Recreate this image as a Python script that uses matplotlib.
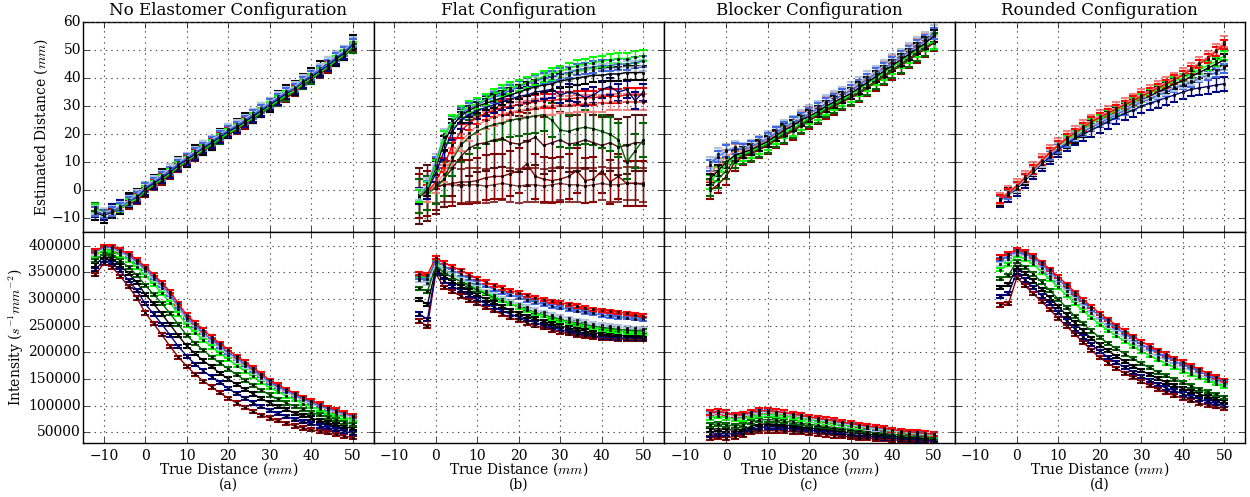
import numpy as np
import matplotlib.pyplot as plt

# true distance grids (mm)
x_noel = list(range(-12, 51, 2))
x_elast = list(range(-4, 51, 2))

# ---- No elastomer: estimated distance (mm)
noel_est_red = [-7, -8, -7, -6, -4, -2.5, 0, 2.5, 4.5, 6.5, 9, 11, 13, 15, 17, 19, 21, 22.5, 24.5, 26,
                28, 30, 32, 34, 36, 38, 40, 42, 44.5, 46.5, 48.5, 51]
noel_est_darkred = [-7, -8.5, -8, -6.5, -5, -3.5, -1, 1.5, 3.5, 5.5, 8, 10, 12, 14, 16, 18, 20, 21.5, 23.5, 25.5,
                    27.5, 29.5, 31.5, 33, 35, 37.5, 39.5, 41.5, 43.5, 46, 48, 51]
noel_est_darkgreen = [-6, -8, -7, -6, -4.5, -3, -0.5, 2, 4, 6, 8.5, 10.5, 12.5, 14.5, 16, 18, 20, 22, 24, 25.5,
                      27.5, 29.5, 31.5, 33.5, 35.5, 37.5, 39.5, 42, 44, 46, 48, 50.5]
noel_est_green = [-6.5, -8, -7.5, -6.5, -4.5, -3, 0, 2, 4, 6, 8.5, 10.5, 12.5, 14.5, 16.5, 18.5, 20.5, 22, 24, 26,
                  28, 30, 32, 34, 35.5, 38, 40, 42, 44, 46.5, 48.5, 51.5]
noel_est_black = [-8, -9, -7.5, -6, -3.5, -2, 0.5, 3, 5, 7, 9.5, 11, 13.5, 15, 17, 19.5, 21, 23, 25, 26.5,
                  28.5, 30.5, 33, 35, 36.5, 39, 41, 43.5, 45, 47, 49, 53]
noel_est_navy = [-7.5, -8.5, -7, -5.5, -3.5, -2.5, 0.5, 2.5, 4.5, 6.5, 9, 11, 13, 15.5, 17, 19, 21, 22.5, 24.5, 26.5,
                 28.5, 30.5, 32.5, 34.5, 36.5, 38.5, 40.5, 42.5, 44.5, 47, 49, 52]
noel_est_light = [-7, -8, -7, -5.5, -3.5, -1.5, 1.5, 3.5, 5.5, 8, 10, 12, 14, 16, 18, 20, 22, 23.5, 25.5, 27.5,
                  29.5, 31.5, 33.5, 35.5, 37, 39.5, 41.5, 43.5, 46, 48, 50, 53]
noel_est_blue = [-7.5, -8.5, -7.5, -6, -4, -2, 1, 3, 5, 7, 9.5, 11.5, 13.5, 15.5, 17.5, 19.5, 21.5, 23, 25, 27,
                 29, 31, 33, 35, 36.5, 39, 41, 43, 45, 47.5, 49.5, 52.5]
noel_est_err = [1.5, 1.5, 1.5, 1.5, 2.5, 2, 1.5, 1.5]

# ---- No elastomer: intensity (thousands of s^-1 mm^-2)
noel_int_darkred_k = [346, 367, 360, 343, 323, 302, 274, 254, 233, 211, 191, 174, 159, 146, 135, 124, 114, 105, 97, 89,
                      82, 77, 72, 67, 62, 58, 55, 52, 49, 46, 43, 40]
noel_int_navy_k = [355, 373, 368, 353, 335, 316, 291, 272, 253, 232, 211, 193, 178, 165, 154, 143, 132, 123, 114, 105,
                   98, 91, 85, 80, 74, 70, 66, 62, 59, 55, 52, 48]
noel_int_black_k = [364, 380, 376, 363, 348, 331, 309, 291, 272, 252, 231, 212, 198, 184, 173, 161, 150, 140, 131, 122,
                    113, 105, 99, 93, 86, 81, 77, 72, 68, 64, 61, 57]
noel_int_darkgreen_k = [373, 386, 383, 372, 360, 345, 326, 309, 292, 273, 252, 232, 217, 204, 191, 180, 169, 158, 148,
                        138, 129, 120, 112, 105, 99, 93, 87, 83, 78, 74, 69, 65]
noel_int_green_k = [382, 393, 391, 382, 373, 360, 344, 328, 311, 293, 272, 251, 237, 223, 210, 198, 187, 175, 165, 155,
                    144, 134, 126, 118, 111, 104, 98, 93, 87, 83, 78, 74]
noel_int_light_k = [386, 396, 395, 387, 379, 367, 352, 337, 321, 304, 282, 260, 246, 232, 220, 208, 196, 184, 174, 163,
                    152, 141, 132, 125, 117, 110, 104, 98, 92, 87, 83, 78]
noel_int_blue_k = [389, 397, 397, 390, 382, 370, 357, 341, 326, 309, 287, 265, 251, 237, 224, 212, 200, 189, 178, 167,
                   156, 144, 136, 128, 120, 113, 106, 100, 95, 90, 85, 80]
noel_int_red_k = [391, 399, 399, 392, 385, 374, 361, 346, 331, 314, 292, 270, 256, 242, 229, 217, 205, 193, 182, 171,
                  160, 148, 139, 131, 123, 116, 109, 103, 97, 92, 87, 82]
noel_int_err_k = [3, 3, 3, 3, 3, 3, 3, 3]

# ---- Flat: estimated distance (mm)
flat_est_brown = [-2, -1, 1.5, 2, 2, 1.5, 2, 2, 1.5, 2, 2.5, 2, 1.5, 2, 2, 1.5, 2, 2.5, 2, 2,
                  1.5, 2, 2.5, 2, 2, 2.5, 2.5, 2]
flat_est_darkred = [-2, -1, 1, 2, 2.5, 3, 3, 3.5, 4.5, 5, 5, 6, 7, 9.5, 5, 4, 3.5, 4, 5, 7,
                    3.5, 4, 7, 3, 5, 2.5, 2.5, 2.5]
flat_est_maroon = [-2, -1, 1.5, 4, 8, 12, 15, 16.5, 17, 18, 18.5, 17, 16.5, 17.5, 19, 16, 17, 18, 16.5, 17,
                   18, 17, 16, 17, 15.5, 16, 17, 17]
flat_est_darkgreen = [-2, -1, 1, 4, 11, 16, 19, 21, 22.5, 23.5, 24, 25, 25.5, 26, 26.5, 27, 25, 21.5, 21, 22,
                      22.5, 22, 21, 20, 18, 10, 14, 18]
flat_est_pink = [-2, -1, 2, 6, 12, 17, 20.5, 23, 25, 26, 27, 28, 28.5, 29, 29.5, 30, 30, 30.5, 30.5, 31,
                 31, 31, 31, 31.5, 31.5, 31.5, 31.5, 31.5]
flat_est_red = [-2, -0.5, 3, 9, 16, 21, 24, 26, 27.5, 28.5, 29.5, 30, 30.5, 31, 31.5, 32, 32, 32.5, 32.5, 33,
                33, 33, 33.5, 33.5, 33.5, 34, 34, 34]
flat_est_navy = [-2, 0, 6, 14, 21, 25, 27, 28.5, 29.5, 30.5, 31.5, 32.5, 33.5, 34, 35, 35.5, 36, 34, 35, 34.5,
                 33, 34, 36, 37, 35, 36, 32, 35]
flat_est_black = [-2, 0.5, 8, 17, 23, 26.5, 28.5, 30, 31, 32, 33, 34, 35, 36, 37, 37.5, 38, 39, 39.5, 40,
                  40.5, 41, 41, 41.5, 41.5, 42, 42, 42]
flat_est_light = [-1.5, 2.5, 11, 20, 25, 28, 29.5, 31, 32, 33.5, 34.5, 36, 37, 38, 38.5, 39.5, 40, 40.5, 41, 42,
                  42.5, 43, 43, 43.5, 43.5, 44, 44, 44.5]
flat_est_blue = [-2, 1.5, 10, 19, 24.5, 27.5, 29, 30.5, 32, 33, 34.5, 35.5, 37, 38, 39, 40, 40.5, 41.5, 42, 43,
                 43.5, 44, 44.5, 44.5, 45, 45, 45.5, 46]
flat_est_green = [-2, 1, 9, 19, 25, 28, 30, 31, 32.5, 34, 35.5, 36.5, 37.5, 38.5, 39.5, 40.5, 41.5, 42.5, 43.5, 44.5,
                  45, 45.5, 46, 46.5, 47, 47, 47.5, 48]
flat_est_err = [6, 8, 10, 6, 3, 2.5, 3, 2.5, 2, 2, 2]

# ---- Flat: intensity (thousands of s^-1 mm^-2)
flat_int_navy_k = [259, 249, 348, 322, 314, 306, 298, 291, 284, 278, 272, 265, 260, 255, 250, 246, 242, 238, 235, 232,
                   230, 228, 227, 226, 225, 225, 224, 224]
flat_int_black_k = [272, 262, 352, 334, 324, 316, 307, 299, 292, 285, 278, 272, 266, 261, 256, 251, 247, 243, 239, 236,
                    233, 231, 229, 228, 227, 227, 227, 226]
flat_int_darkgreen_k = [300, 290, 356, 343, 333, 324, 316, 308, 300, 293, 286, 279, 273, 268, 263, 258, 254, 250, 246,
                        243, 240, 237, 235, 233, 232, 231, 231, 231]
flat_int_green_k = [320, 315, 362, 350, 341, 333, 325, 317, 310, 303, 297, 291, 285, 280, 275, 270, 266, 262, 258, 255,
                    252, 249, 247, 245, 243, 242, 241, 240]
flat_int_light_k = [342, 340, 368, 356, 347, 338, 329, 320, 313, 305, 298, 291, 285, 279, 274, 269, 264, 260, 257, 253,
                    250, 247, 244, 242, 240, 238, 237, 236]
flat_int_blue_k = [335, 330, 366, 355, 346, 338, 330, 322, 315, 308, 301, 295, 290, 285, 280, 275, 271, 267, 264, 260,
                   257, 254, 252, 250, 248, 246, 245, 244]
flat_int_pink_k = [340, 338, 372, 362, 354, 347, 339, 331, 325, 319, 313, 308, 303, 298, 294, 290, 287, 284, 281, 278,
                   275, 273, 270, 268, 266, 265, 263, 262]
flat_int_red_k = [348, 346, 378, 368, 361, 354, 346, 338, 332, 326, 321, 316, 312, 307, 303, 299, 296, 293, 290, 287,
                  284, 281, 279, 277, 275, 273, 271, 269]
flat_int_err_k = [3, 3, 3, 3, 3, 3, 3, 3]

# ---- Blocker: estimated distance (mm)
block_est_darkred = [0, 2, 5, 10, 12, 13, 14.5, 16, 18, 19.5, 21, 23, 25, 26.5, 28.5, 30, 31.5, 33, 34.5, 36.5,
                     38.5, 40.5, 42.5, 44.5, 46.5, 48.5, 50.5, 52.5]
block_est_darkgreen = [1, 4, 7, 11, 12.5, 13.5, 15, 16.5, 18.5, 20, 21.5, 23.5, 25.5, 27, 29, 30.5, 32, 33.5, 35, 37,
                       39, 41, 43, 45, 47, 49, 51, 53]
block_est_green = [3, 6, 9, 12, 13, 14, 15.5, 17, 19, 21, 22, 24, 26, 27.5, 29.5, 31, 32.5, 34, 36, 38,
                   40, 42, 44, 46, 48, 50, 52, 53]
block_est_red = [6, 9, 12, 14, 14, 15, 16.5, 18, 20, 22, 23.5, 25.5, 27.5, 29, 31, 32.5, 34, 36, 38, 40,
                 42, 43.5, 45.5, 47.5, 49.5, 51.5, 53.5, 55.5]
block_est_black = [4, 7, 10, 12.5, 13.5, 14.5, 16, 17.5, 19.5, 21.5, 23, 25, 26.5, 28, 30, 31.5, 33, 34.5, 36.5, 38.5,
                   40.5, 42.5, 44.5, 46.5, 48.5, 50.5, 52.5, 55]
block_est_light = [10, 13, 14.5, 15.5, 15, 16, 17.5, 19, 21, 23, 24.5, 26.5, 28.5, 30, 32, 33.5, 35, 36.5, 38.5, 40.5,
                   42.5, 44.5, 46.5, 48.5, 50.5, 52.5, 54.5, 57]
block_est_blue = [9, 12, 14, 15, 14.5, 15.5, 17, 18.5, 20.5, 22.5, 24, 25.5, 27.5, 29, 31, 32.5, 34, 35.5, 37.5, 39.5,
                  41.5, 43.5, 45.5, 47.5, 49.5, 51.5, 53.5, 56]
block_est_err = [3, 3, 2.5, 2.5, 2, 2, 2]

# ---- Blocker: intensity (thousands of s^-1 mm^-2)
block_int_navy_k = [39, 41, 40, 42, 45, 50, 52, 53, 53, 52, 51, 50, 49, 47, 46, 44, 43, 41, 40, 39,
                    38, 37, 36, 35, 34, 34, 33, 32]
block_int_black_k = [46, 48, 47, 47, 50, 55, 59, 60, 60, 58, 57, 55, 54, 52, 51, 49, 47, 46, 44, 43,
                     41, 40, 39, 38, 37, 36, 35, 34]
block_int_darkred_k = [55, 57, 55, 54, 56, 61, 65, 66, 65, 64, 62, 60, 58, 56, 55, 53, 51, 49, 48, 46,
                       45, 43, 42, 41, 40, 39, 38, 37]
block_int_darkgreen_k = [64, 66, 64, 62, 64, 69, 73, 74, 73, 71, 69, 67, 65, 63, 61, 59, 57, 55, 53, 51,
                         49, 48, 46, 45, 43, 42, 41, 40]
block_int_light_k = [77, 80, 78, 75, 76, 80, 83, 84, 83, 81, 79, 76, 74, 71, 69, 67, 64, 62, 60, 58,
                     56, 54, 52, 50, 48, 47, 45, 44]
block_int_blue_k = [82, 86, 83, 79, 80, 84, 87, 87, 86, 84, 82, 79, 76, 74, 71, 69, 66, 64, 62, 59,
                    57, 55, 53, 51, 49, 48, 46, 45]
block_int_green_k = [86, 90, 87, 83, 83, 87, 90, 90, 89, 87, 84, 82, 79, 76, 74, 71, 68, 66, 64, 61,
                     59, 57, 55, 53, 51, 49, 48, 46]
block_int_red_k = [87, 89, 87, 82, 84, 88, 91, 91, 89, 87, 85, 82, 79, 77, 74, 72, 69, 67, 64, 62,
                   60, 58, 55, 53, 51, 50, 48, 47]
block_int_err_k = [4, 4, 4, 4, 4, 4, 4, 4]

# ---- Rounded: estimated distance (mm)
round_est_navy = [-3.5, -1.5, 0.5, 3.5, 6.5, 9.5, 12, 14.5, 16.5, 18.5, 20, 21.5, 23, 24.5, 26, 27.5, 28.5, 30, 31, 32,
                  33, 34, 35, 36, 36.5, 37, 37.5, 38]
round_est_black = [-3.5, -1, 1, 4, 7, 10, 12.5, 15, 17, 19, 21, 23, 24.5, 26, 27.5, 29, 30.5, 32, 33.5, 35,
                   36.5, 38, 39, 40.5, 42, 43.5, 45, 46.5]
round_est_blue = [-3.5, -1.5, 1, 4, 7, 10, 12.5, 15, 17, 19, 21, 22.5, 24, 25.5, 27, 28.5, 30, 31.5, 32.5, 34,
                  35, 36.5, 37.5, 38.5, 40, 41, 42, 43.5]
round_est_light = [-3, -1, 1, 4, 7, 10, 13, 15.5, 17.5, 19.5, 21.5, 23, 24.5, 26, 27.5, 29, 30.5, 32, 33, 34.5,
                   35.5, 37, 38, 39, 40.5, 41.5, 43, 44.5]
round_est_green = [-3, -1, 1.5, 4.5, 7.5, 10.5, 13.5, 16, 18, 20, 22, 24, 25.5, 27, 28.5, 30, 31.5, 33, 34.5, 36,
                   37.5, 39, 40, 41.5, 43, 44.5, 46, 48]
round_est_pink = [-3, -0.5, 2, 5, 8, 11, 14, 16.5, 19, 21, 23, 25, 26.5, 28, 29.5, 31, 32.5, 34, 35.5, 37,
                  38.5, 40, 41.5, 43.5, 45.5, 47.5, 50, 53]
round_est_red = [-3, -1, 1.5, 4.5, 7.5, 10.5, 13.5, 16, 18.5, 20.5, 22.5, 24.5, 26, 27.5, 29, 30.5, 32, 33.5, 35, 36.5,
                 38, 39.5, 41, 43, 45, 47, 49.5, 52]
round_est_err = [2.5, 2, 1.5, 1.5, 1.5, 2, 1.5]

# ---- Rounded: intensity (thousands of s^-1 mm^-2)
round_int_black2_k = [289, 291, 340, 325, 310, 295, 280, 264, 249, 234, 219, 204, 190, 180, 170, 161, 153, 145, 138, 131,
                      125, 119, 114, 109, 105, 101, 98, 95]
round_int_darkred_k = [305, 310, 350, 336, 322, 306, 291, 275, 259, 244, 229, 215, 202, 191, 181, 172, 163, 155, 147,
                       140, 133, 128, 122, 117, 112, 108, 104, 100]
round_int_black_k = [322, 327, 360, 348, 334, 318, 302, 286, 270, 255, 240, 226, 214, 203, 193, 183, 174, 166, 158, 151,
                     144, 138, 132, 127, 122, 117, 113, 108]
round_int_darkgreen_k = [338, 345, 370, 360, 347, 332, 316, 300, 284, 268, 254, 240, 228, 217, 207, 197, 188, 179, 171,
                         163, 156, 149, 143, 137, 131, 126, 121, 116]
round_int_green_k = [355, 365, 382, 375, 365, 351, 337, 322, 307, 292, 278, 265, 252, 241, 231, 221, 211, 202, 194, 186,
                     179, 172, 165, 159, 153, 147, 141, 136]
round_int_light_k = [366, 375, 386, 380, 371, 358, 344, 330, 315, 300, 286, 273, 260, 249, 238, 228, 218, 208, 200, 192,
                     185, 178, 171, 165, 158, 152, 146, 140]
round_int_blue_k = [375, 381, 390, 385, 377, 365, 351, 337, 323, 308, 294, 281, 268, 257, 246, 235, 225, 215, 207, 199,
                    192, 184, 177, 171, 164, 157, 151, 145]
round_int_red_k = [379, 385, 393, 389, 381, 369, 356, 342, 328, 313, 299, 286, 273, 262, 251, 240, 230, 220, 212, 204,
                   197, 189, 182, 175, 168, 161, 154, 148]
round_int_err_k = [3, 3, 3, 3, 3, 3, 3, 3]

titles = ['No Elastomer Configuration', 'Flat Configuration', 'Blocker Configuration', 'Rounded Configuration']
panel_tags = ['(a)', '(b)', '(c)', '(d)']

# line colours, drawn in this order (last one ends up on top)
est_colors = {
    'noel': ['red', 'darkred', 'darkgreen', 'lime', 'black', 'navy', 'lightsteelblue', 'royalblue'],
    'flat': ['#8b3a3a', 'darkred', '#5a1010', 'darkgreen', 'lightcoral', 'red', 'navy', 'black',
             'lightsteelblue', 'royalblue', 'lime'],
    'block': ['darkred', 'darkgreen', 'lime', 'lightcoral', 'black', 'lightsteelblue', 'royalblue'],
    'round': ['navy', 'black', 'royalblue', 'lightsteelblue', 'lime', 'lightcoral', 'red'],
}
int_colors = ['darkred', 'navy', 'black', 'darkgreen', 'lime', 'lightsteelblue', 'royalblue', 'red']

est_data = [
    (x_noel, [noel_est_red, noel_est_darkred, noel_est_darkgreen, noel_est_green, noel_est_black,
              noel_est_navy, noel_est_light, noel_est_blue], noel_est_err, est_colors['noel']),
    (x_elast, [flat_est_brown, flat_est_darkred, flat_est_maroon, flat_est_darkgreen, flat_est_pink,
               flat_est_red, flat_est_navy, flat_est_black, flat_est_light, flat_est_blue, flat_est_green],
     flat_est_err, est_colors['flat']),
    (x_elast, [block_est_darkred, block_est_darkgreen, block_est_green, block_est_red, block_est_black,
               block_est_light, block_est_blue], block_est_err, est_colors['block']),
    (x_elast, [round_est_navy, round_est_black, round_est_blue, round_est_light, round_est_green,
               round_est_pink, round_est_red], round_est_err, est_colors['round']),
]
int_data = [
    (x_noel, [noel_int_darkred_k, noel_int_navy_k, noel_int_black_k, noel_int_darkgreen_k, noel_int_green_k,
              noel_int_light_k, noel_int_blue_k, noel_int_red_k], noel_int_err_k),
    (x_elast, [flat_int_navy_k, flat_int_black_k, flat_int_darkgreen_k, flat_int_green_k, flat_int_light_k,
               flat_int_blue_k, flat_int_pink_k, flat_int_red_k], flat_int_err_k),
    (x_elast, [block_int_navy_k, block_int_black_k, block_int_darkred_k, block_int_darkgreen_k,
               block_int_light_k, block_int_blue_k, block_int_green_k, block_int_red_k], block_int_err_k),
    (x_elast, [round_int_black2_k, round_int_darkred_k, round_int_black_k, round_int_darkgreen_k,
               round_int_green_k, round_int_light_k, round_int_blue_k, round_int_red_k], round_int_err_k),
]

plt.style.use('classic')
plt.rcParams['font.family'] = 'serif'
plt.rcParams['font.serif'] = ['DejaVu Serif']
plt.rcParams['mathtext.fontset'] = 'cm'
plt.rcParams['font.size'] = 10
plt.rcParams['ytick.major.pad'] = 1.5
plt.rcParams['xtick.major.pad'] = 4


def draw_series(ax, x, y, err, color):
    ax.errorbar(x, y, yerr=err, color=color, ecolor=color, lw=1, elinewidth=1,
                capsize=3, capthick=1.5, marker='s', ms=2, mfc='black', mec='black')


fig, axes = plt.subplots(2, 4, figsize=(12.5, 4.97), dpi=100, sharex=True, sharey='row')
fig.patch.set_facecolor('white')
fig.subplots_adjust(left=0.0664, right=0.996, top=0.9557, bottom=0.1087, wspace=0, hspace=0)

for col in range(4):
    ax_top = axes[0, col]
    ax_bot = axes[1, col]

    x, series, errs, colors = est_data[col]
    for vals, e, c in zip(series, errs, colors):
        draw_series(ax_top, x, vals, e, c)

    x, series, errs = int_data[col]
    for vals, e, c in zip(series, errs, int_colors):
        draw_series(ax_bot, x, np.array(vals) * 1000, e * 1000, c)

    ax_top.set_title(titles[col], fontsize=12)
    ax_bot.set_xlabel('True Distance ($mm$)')
    ax_bot.xaxis.set_label_coords(0.5, -0.082)
    ax_bot.text(0.5, -0.2, panel_tags[col], transform=ax_bot.transAxes, ha='center', va='center')

    for ax in (ax_top, ax_bot):
        ax.grid(True, color='0.3', linestyle=':', linewidth=0.8)
        ax.set_xlim(-15, 55)
        ax.set_xticks([-10, 0, 10, 20, 30, 40, 50])
        ax.set_facecolor('white')

axes[0, 0].set_ylim(-15, 60)
axes[0, 0].set_yticks([-10, 0, 10, 20, 30, 40, 50, 60])
axes[1, 0].set_ylim(30000, 425000)
axes[1, 0].set_yticks([50000, 100000, 150000, 200000, 250000, 300000, 350000, 400000])
axes[0, 0].set_ylabel('Estimated Distance ($mm$)')
axes[1, 0].set_ylabel('Intensity ($s^{-1}mm^{-2}$)')
axes[0, 0].yaxis.set_label_coords(-0.112, 0.5)
axes[1, 0].yaxis.set_label_coords(-0.2, 0.5)
axes[1, 0].ticklabel_format(axis='y', style='plain', useOffset=False)

fig.savefig('out.png', dpi=100, facecolor='white')
